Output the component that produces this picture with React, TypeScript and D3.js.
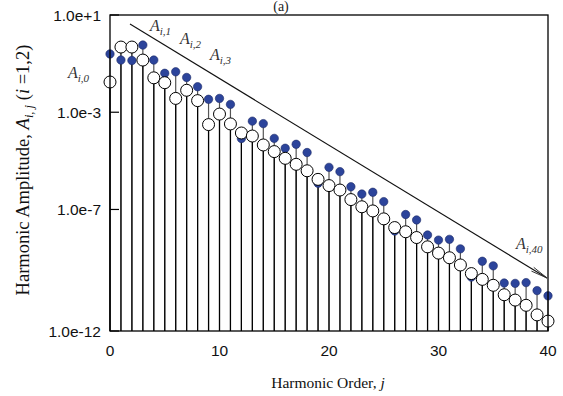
import React from "react";
import * as d3 from "d3";

// Harmonic amplitudes A_{1,j} (filled) and A_{2,j} (open), j = 0..40
const orders: number[] = d3.range(0, 41);
const ampSeries1: number[] = [
  0.25, 0.14, 0.134, 0.58, 0.14, 0.04, 0.046, 0.027, 0.0112, 3.4e-3,
  3.7e-3, 2.1e-3, 8.3e-5, 4.3e-4, 3.4e-4, 8.4e-5, 3.3e-5, 4.8e-5, 2.2e-5, 1.2e-6,
  5.4e-6, 3.6e-6, 8.6e-7, 4.3e-7, 5.1e-7, 2.1e-7, 1.3e-8, 6.2e-8, 3.7e-8, 8.9e-9,
  5.5e-9, 5.9e-9, 2.4e-9, 1.65e-10, 7.4e-10, 4.8e-10, 9.4e-11, 9.1e-11, 9.8e-11, 4.6e-11,
  2.8e-11,
];
const ampSeries2: number[] = [
  0.0175, 0.48, 0.48, 0.14, 0.026, 0.0164, 3.7e-3, 8e-3, 3.0e-3, 3.1e-4,
  8.4e-4, 3.3e-4, 1.4e-4, 1.05e-4, 4.5e-5, 2.4e-5, 1.27e-5, 7.2e-6, 3.9e-6, 1.73e-6,
  9.6e-7, 6.3e-7, 2.55e-7, 1.29e-7, 8.7e-8, 4.1e-8, 1.8e-8, 1.21e-8, 7e-9, 2.9e-9,
  1.6e-9, 1.03e-9, 5.2e-10, 2.3e-10, 1.33e-10, 7.6e-11, 3.1e-11, 1.87e-11, 1.14e-11, 4.6e-12,
  2.55e-12,
];
const xTicks: number[] = [0, 10, 20, 30, 40];
const yTicks: number[] = [1e1, 1e-3, 1e-7, 1e-12];
const yTickLabels: string[] = ["1.0e+1", "1.0e-3", "1.0e-7", "1.0e-12"];

const W = 563;
const H = 396;
const left = 110;
const right = 548;
const top = 15;
const bottom = 331;

const x = d3.scaleLinear().domain([0, 40]).range([left, right]);
const y = d3.scaleLog().domain([1e-12, 10]).range([bottom, top]);

const BLUE = "#2c449b";
const SANS = "Liberation Sans, Arial, sans-serif";
const SERIF = "Liberation Serif, Times New Roman, serif";

// Trend arrow running from the first harmonic to the 40th
const arrowStart: [number, number] = [130, 24];
const arrowEnd: [number, number] = [547, 278];

function ALabel({ x0, y0, sub }: { x0: number; y0: number; sub: string }) {
  return (
    <text x={x0} y={y0} fontFamily={SERIF} fontStyle="italic" fill="#333" fontSize={16}>
      A
      <tspan fontSize={11} dy={4}>
        {sub}
      </tspan>
    </text>
  );
}

export default function App() {
  const ang = Math.atan2(arrowEnd[1] - arrowStart[1], arrowEnd[0] - arrowStart[0]);
  const headLen = 17;
  const headSpread = 0.13;
  const h1: [number, number] = [
    arrowEnd[0] - headLen * Math.cos(ang - headSpread),
    arrowEnd[1] - headLen * Math.sin(ang - headSpread),
  ];
  const h2: [number, number] = [
    arrowEnd[0] - headLen * Math.cos(ang + headSpread),
    arrowEnd[1] - headLen * Math.sin(ang + headSpread),
  ];

  return (
    <svg
      width={W}
      height={H}
      style={{ position: "absolute", left: 0, top: 0, background: "#fff" }}
    >
      <rect x={0} y={0} width={W} height={H} fill="#fff" />

      {/* panel title */}
      <text x={281} y={11} textAnchor="middle" fontFamily={SERIF} fontSize={14} fill="#222">
        (a)
      </text>

      {/* stems */}
      {orders.map((j) => (
        <line
          key={"s1" + j}
          x1={x(j)}
          x2={x(j)}
          y1={bottom}
          y2={y(ampSeries1[j])}
          stroke="#555"
          strokeWidth={1.2}
        />
      ))}
      {orders.map((j) => (
        <line
          key={"s2" + j}
          x1={x(j)}
          x2={x(j)}
          y1={bottom}
          y2={y(ampSeries2[j])}
          stroke="#000"
          strokeWidth={1.2}
        />
      ))}

      {/* markers */}
      {orders.map((j) => (
        <circle
          key={"c1" + j}
          cx={x(j)}
          cy={y(ampSeries1[j])}
          r={4.2}
          fill={BLUE}
          stroke="#1c2a66"
          strokeWidth={0.6}
        />
      ))}
      {orders.map((j) => (
        <circle
          key={"c2" + j}
          cx={x(j)}
          cy={y(ampSeries2[j])}
          r={6}
          fill="#fff"
          stroke="#000"
          strokeWidth={1}
        />
      ))}

      {/* frame */}
      <rect
        x={left}
        y={top}
        width={right - left}
        height={bottom - top}
        fill="none"
        stroke="#000"
        strokeWidth={1.3}
      />

      {/* y ticks */}
      {yTicks.map((t, i) => (
        <g key={"yt" + i}>
          <line x1={left} x2={left + 9} y1={y(t)} y2={y(t)} stroke="#000" strokeWidth={1.2} />
          <text
            x={left - 9}
            y={y(t)}
            dy="0.36em"
            textAnchor="end"
            fontFamily={SANS}
            fontSize={15.5}
            fill="#111"
          >
            {yTickLabels[i]}
          </text>
        </g>
      ))}

      {/* x tick labels */}
      {xTicks.map((t) => (
        <text
          key={"xt" + t}
          x={x(t)}
          y={356}
          textAnchor="middle"
          fontFamily={SANS}
          fontSize={15.5}
          fill="#111"
        >
          {t}
        </text>
      ))}

      {/* axis titles */}
      <text x={328} y={388} textAnchor="middle" fontFamily={SERIF} fontSize={15.5} fill="#111">
        Harmonic Order,{" "}
        <tspan fontStyle="italic">j</tspan>
      </text>
      <text
        transform="translate(29,170) rotate(-90)"
        textAnchor="middle"
        fontFamily={SERIF}
        fontSize={18.5}
        fill="#111"
      >
        Harmonic Amplitude,{" "}
        <tspan fontStyle="italic">A</tspan>
        <tspan fontStyle="italic" fontSize={12.5} dy={4}>
          i, j
        </tspan>
        <tspan dy={-4}> (</tspan>
        <tspan fontStyle="italic">i</tspan>
        <tspan> =1,2)</tspan>
      </text>

      {/* trend arrow */}
      <line
        x1={arrowStart[0]}
        y1={arrowStart[1]}
        x2={arrowEnd[0]}
        y2={arrowEnd[1]}
        stroke="#111"
        strokeWidth={1.1}
      />
      <polyline
        points={`${h1[0]},${h1[1]} ${arrowEnd[0]},${arrowEnd[1]} ${h2[0]},${h2[1]}`}
        fill="none"
        stroke="#333"
        strokeWidth={1}
      />

      {/* amplitude labels */}
      <ALabel x0={68} y0={78} sub="i,0" />
      <ALabel x0={150} y0={31} sub="i,1" />
      <ALabel x0={180} y0={44} sub="i,2" />
      <ALabel x0={210} y0={60} sub="i,3" />
      <ALabel x0={516} y0={249} sub="i,40" />
    </svg>
  );
}
